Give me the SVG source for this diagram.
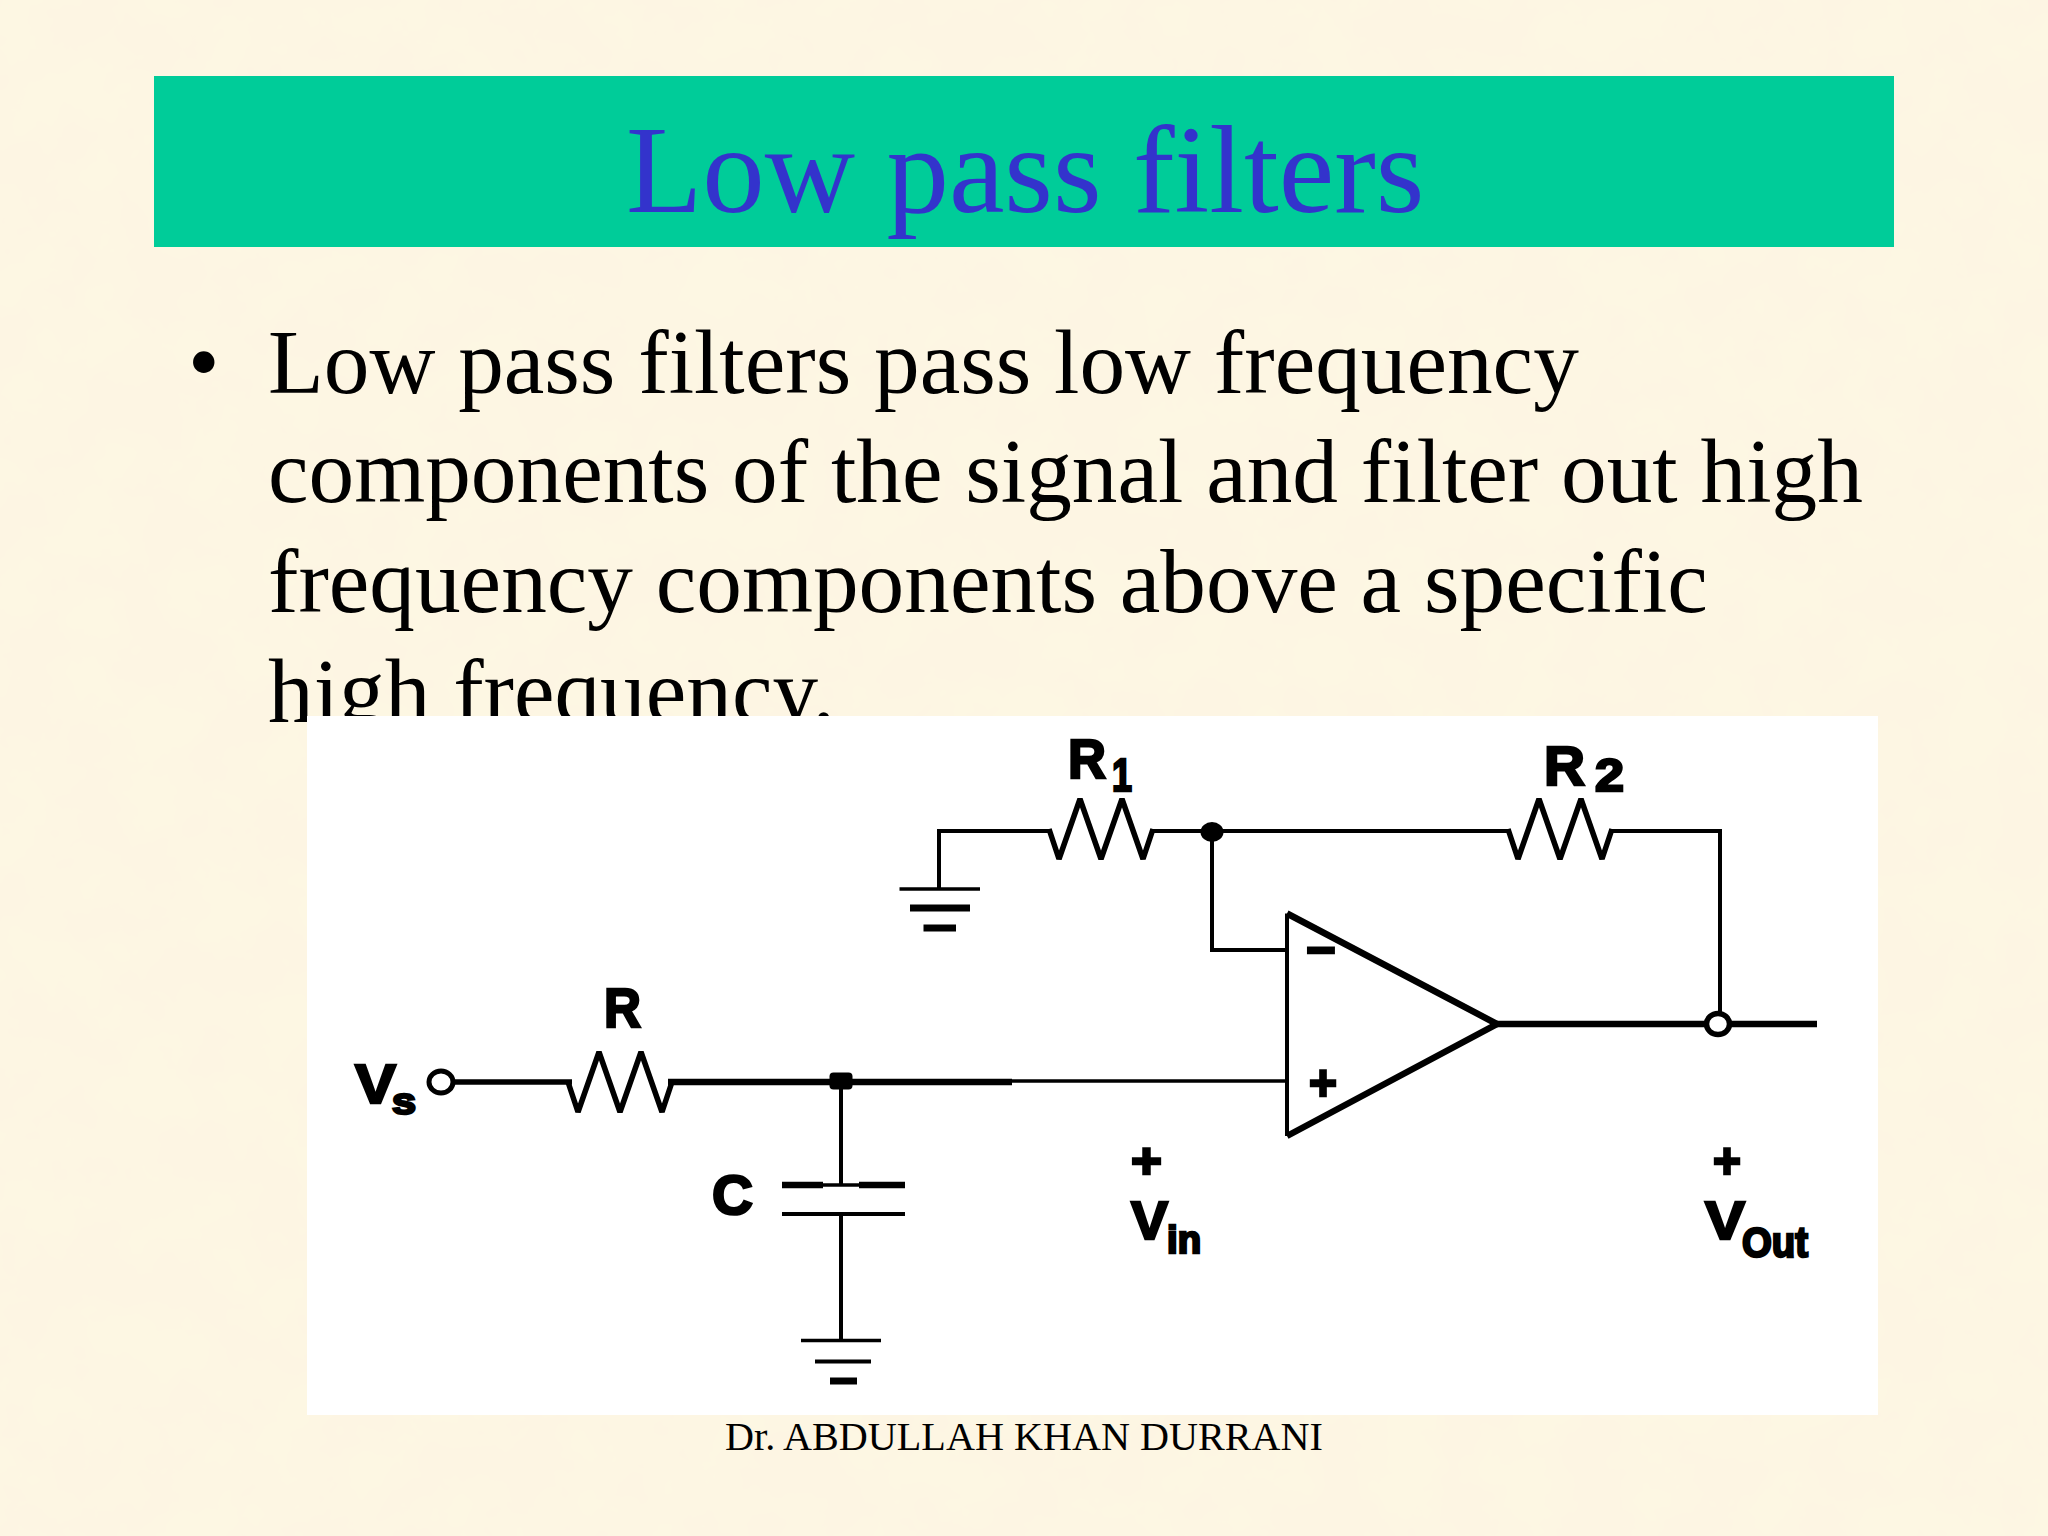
<svg xmlns="http://www.w3.org/2000/svg" width="2048" height="1536" viewBox="0 0 2048 1536">
<defs>
<style>
.s{font-family:"Liberation Serif","Times New Roman",serif}
.b{font-size:91.300px;fill:#000}
.l{font-family:"Liberation Sans",Arial,sans-serif;font-weight:bold;fill:#000;stroke:#000;stroke-width:2.500px}
.w{fill:none;stroke:#000;stroke-linejoin:miter}
.z{fill:none;stroke:#000;stroke-linejoin:bevel}
.t3{stroke-width:3.5}.t4{stroke-width:4}.t5{stroke-width:5.5}.t6{stroke-width:6.5}
</style>
<filter id="tex" x="0" y="0" width="100%" height="100%">
<feTurbulence type="fractalNoise" baseFrequency="0.016" numOctaves="4" seed="11"/>
<feColorMatrix values="0 0 0 0 0.98  0 0 0 0 0.93  0 0 0 0 0.77  2.6 0 0 0 -0.85"/>
</filter>
<polyline id="res" points="0,0 10,30 31,-30 52,30 73,-30 94,30 104,0"/>
</defs>
<rect width="2048" height="1536" fill="#fdf5e3"/>
<rect width="2048" height="1536" filter="url(#tex)"/>
<g id="title">
<rect x="154" y="76" width="1740" height="171" fill="#00cc99"/>
<text class="s" x="626" y="212" font-size="125" fill="#3333cc">Low pass filters</text>
</g>
<g id="body" class="s">
<text x="188" y="392" font-size="90" fill="#000">•</text>
<text class="b" x="268" y="393">Low pass filters pass low frequency</text>
<text class="b" x="268" y="502">components of the signal and filter out high</text>
<text class="b" x="268" y="612">frequency components above a specific</text>
<text class="b" x="268" y="722">high frequency.</text>
</g>
<rect id="panel" x="307" y="716" width="1571" height="699" fill="#fff"/>
<g id="connectors">
<path class="w t5" d="M455 1082H572"/>
<path class="w t6" d="M668 1082H1012"/>
<path class="w t3" d="M1012 1081H1288"/>
<path class="w t4" d="M841 1082V1185M841 1214V1341"/>
<path class="w t4" d="M939 889V831H1052"/>
<path class="w t4" d="M1150 831H1511M1611 831H1720V1012"/>
<path class="w t4" d="M1212 831V950H1288"/>
<path class="w t6" d="M1495 1024H1817"/>
</g>
<g id="node-vs">
<ellipse cx="441" cy="1082" rx="12" ry="11" fill="#fff" stroke="#000" stroke-width="5"/>
<text class="l" x="355" y="1103" font-size="56" textLength="41" lengthAdjust="spacingAndGlyphs">V</text>
<text class="l" x="392" y="1114" font-size="36" textLength="24" lengthAdjust="spacingAndGlyphs">s</text>
</g>
<g id="node-r">
<use href="#res" x="568" y="1082" class="z t5"/>
<text class="l" x="604" y="1027" font-size="56" textLength="37" lengthAdjust="spacingAndGlyphs">R</text>
</g>
<g id="node-c">
<path class="w t6" d="M782 1185H823M859 1185H905"/>
<path class="w t3" d="M823 1185H859"/>
<path class="w t4" d="M782 1214H905"/>
<text class="l" x="712" y="1214" font-size="56" textLength="41" lengthAdjust="spacingAndGlyphs">C</text>
</g>
<g id="node-ground-c">
<path class="w t3" d="M801 1340.500H881"/>
<path class="w t4" d="M815 1361.500H871"/>
<path class="w" stroke-width="7" d="M830 1381H857"/>
</g>
<g id="node-ground-r1">
<path class="w t3" d="M899.500 889H980"/>
<path class="w" stroke-width="7" d="M910 908H970M923.500 928H956"/>
</g>
<g id="node-r1">
<use href="#res" x="1049" y="829" class="z t5"/>
<text class="l" x="1068" y="778" font-size="56" textLength="38" lengthAdjust="spacingAndGlyphs">R</text>
<text class="l" x="1112" y="791" font-size="46" textLength="20" lengthAdjust="spacingAndGlyphs">1</text>
</g>
<g id="node-r2">
<use href="#res" x="1508" y="829" class="z t5"/>
<text class="l" x="1544" y="785" font-size="56" textLength="41" lengthAdjust="spacingAndGlyphs">R</text>
<text class="l" x="1595" y="791" font-size="46" textLength="29" lengthAdjust="spacingAndGlyphs">2</text>
</g>
<g id="node-junctions">
<rect x="829.500" y="1072.500" width="23" height="17" rx="4" fill="#000"/>
<ellipse cx="1212" cy="832" rx="11.500" ry="10" fill="#000"/>
</g>
<g id="node-opamp">
<path d="M1287 913.500V1136" class="w t4"/>
<path d="M1287 913.500L1497 1024L1287 1136" class="w t6"/>
<text class="l" x="1306" y="962" font-size="44" textLength="30" lengthAdjust="spacingAndGlyphs">-</text>
<text class="l" x="1309" y="1100" font-size="50" textLength="28" lengthAdjust="spacingAndGlyphs">+</text>
</g>
<g id="node-vin">
<text class="l" x="1131" y="1178" font-size="50" textLength="31" lengthAdjust="spacingAndGlyphs">+</text>
<text class="l" x="1131" y="1239" font-size="54" textLength="37" lengthAdjust="spacingAndGlyphs">V</text>
<text class="l" x="1167" y="1253" font-size="38" textLength="34" lengthAdjust="spacingAndGlyphs">in</text>
</g>
<g id="node-vout">
<ellipse cx="1718" cy="1024" rx="11.500" ry="10.500" fill="#fff" stroke="#000" stroke-width="5.500"/>
<text class="l" x="1713" y="1178" font-size="50" textLength="28" lengthAdjust="spacingAndGlyphs">+</text>
<text class="l" x="1705" y="1239" font-size="54" textLength="40" lengthAdjust="spacingAndGlyphs">V</text>
<text class="l" x="1742" y="1257" font-size="42" textLength="66" lengthAdjust="spacingAndGlyphs">Out</text>
</g>
<g id="footer">
<text class="s" x="725" y="1450" font-size="41" fill="#000" textLength="598" lengthAdjust="spacingAndGlyphs">Dr. ABDULLAH KHAN DURRANI</text>
</g>
</svg>
